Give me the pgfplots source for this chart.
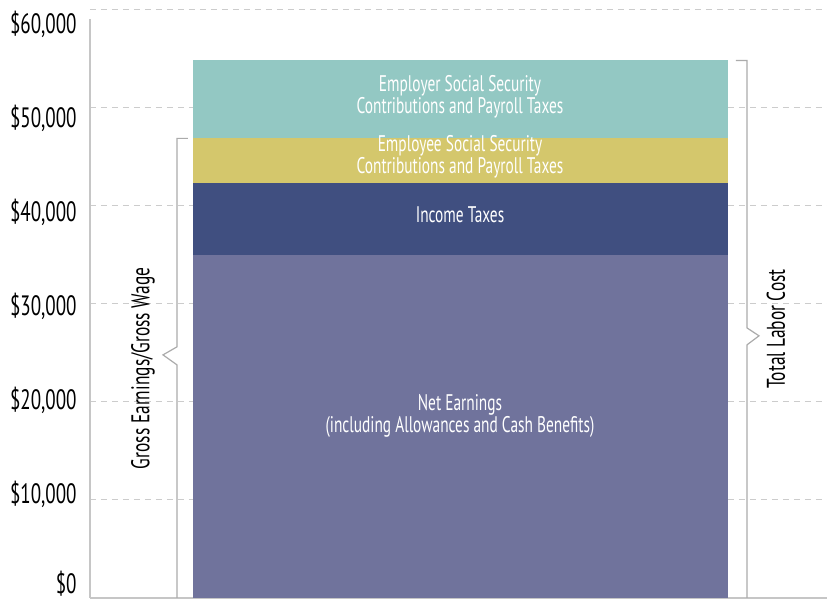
\documentclass[border=0pt]{standalone}
\usepackage{pgfplots}
\pgfplotsset{compat=1.18}
\usepackage{fontspec}
\setmainfont{PT Sans}[FakeStretch=0.68]

\definecolor{employer}{HTML}{93C8C3}
\definecolor{employee}{HTML}{D4C76C}
\definecolor{incometax}{HTML}{404F80}
\definecolor{netearn}{HTML}{70739C}
\definecolor{gridgray}{HTML}{CCCCCC}
\definecolor{bracegray}{HTML}{ABABAB}

\tikzset{seglabel/.style={text=white, align=center, font=\fontsize{11.3}{10}\selectfont}}

\begin{document}
\begin{tikzpicture}
% fix the page to the reference proportions (1px = 0.5pt)
\useasboundingbox (-45pt,-1.5pt) rectangle (368.5pt,299pt);
\begin{axis}[
    scale only axis,
    width=368.5pt, height=294.45pt,
    xmin=0, xmax=737,
    ymin=0, ymax=60000,
    axis x line*=bottom,
    axis y line*=left,
    x axis line style={draw=gray!45, line width=0.6pt},
    y axis line style={draw=none},
    xtick=\empty,
    ytick={0,10000,20000,30000,40000,50000,60000},
    yticklabels={{\$0},{\$10,000},{\$20,000},{\$30,000},{\$40,000},{\$50,000},{\$60,000}},
    scaled y ticks=false,
    major tick length=0pt,
    yticklabel style={font=\fontsize{14}{15}\selectfont, inner sep=0pt, xshift=-6.5pt,
        yshift={4.5pt-2pt*\ticknum+2.5pt*(\ticknum==0)}},
    ymajorgrids=true,
    grid style={gridgray, dash pattern=on 3pt off 2.5pt, line width=0.6pt},
    ybar stacked,
    bar width=535,
    clip=false,
]
% stacked segments
\addplot[fill=netearn, draw=none] coordinates {(370.5,34900)};
\addplot[fill=incometax, draw=none] coordinates {(370.5,7360)};
\addplot[fill=employee, draw=none] coordinates {(370.5,4570)};
\addplot[fill=employer, draw=none] coordinates {(370.5,7940)};

% left axis line stops a little below the top grid line, as in the original
\draw[gray!45, line width=0.6pt] (axis cs:0,0) -- (axis cs:0,59020);

% label positions, used after the axis so the text lies above the bars
\coordinate (lEmployer) at (axis cs:370,51070);
\coordinate (lEmployee) at (axis cs:370,44950);
\coordinate (lIncome) at (axis cs:370,39040);
\coordinate (lNet) at (axis cs:370,18550);

% braces
\draw[bracegray, line width=0.6pt] (axis cs:98,46830) -- (axis cs:87,46830) -- (axis cs:87,25590)
    -- (axis cs:73,24770) -- (axis cs:87,23750) -- (axis cs:87,0);
\draw[bracegray, line width=0.6pt] (axis cs:646,54770) -- (axis cs:657,54770) -- (axis cs:657,27520)
    -- (axis cs:669,26710) -- (axis cs:657,25790) -- (axis cs:657,0);

\node[rotate=90, font=\fontsize{12.8}{13}\selectfont] at (axis cs:53,23390) {Gross Earnings/Gross Wage};
\node[rotate=90, font=\fontsize{12.8}{13}\selectfont] at (axis cs:686,27420) {Total Labor Cost};
\end{axis}
\node[seglabel] at (lEmployer) {Employer Social Security\\Contributions and Payroll Taxes};
\node[seglabel] at (lEmployee) {Employee Social Security\\Contributions and Payroll Taxes};
\node[seglabel] at (lIncome) {Income Taxes};
\node[seglabel] at (lNet) {Net Earnings\\(including Allowances and Cash Benefits)};
\end{tikzpicture}
\end{document}
